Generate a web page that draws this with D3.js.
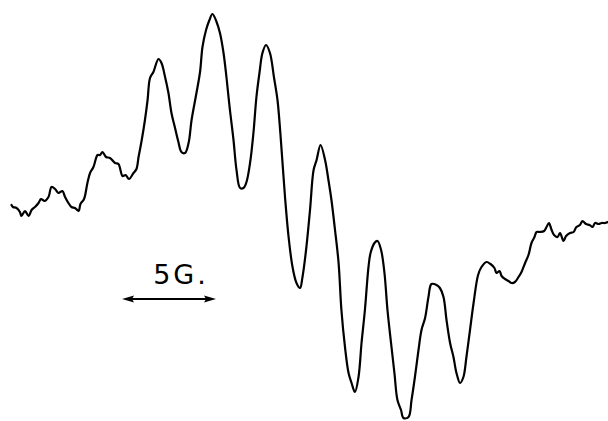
<!DOCTYPE html>
<html>
<head>
<meta charset="utf-8">
<script src="https://cdn.jsdelivr.net/npm/d3@7"></script>
<style>
  html, body { margin: 0; padding: 0; background: #fff; }
  svg { display: block; }
</style>
</head>
<body>
<svg id="chart" width="608" height="421"></svg>
<script>
// EPR first-derivative spectrum: magnetic field offset (G) vs. signal (arb. units)
const field = [
  0.61, 0.69, 0.88, 1.06, 1.14, 1.33, 1.52, 1.68, 1.86, 2.05,
  2.18, 2.37, 2.58, 2.74, 2.93, 3.11, 3.32, 3.46, 3.64, 3.80,
  3.99, 4.18, 4.28, 4.47, 4.65, 4.79, 4.97, 5.19, 5.32, 5.45,
  5.64, 5.85, 6.12, 6.30, 6.52, 6.68, 6.86, 7.10, 7.26, 7.37,
  7.53, 7.71, 7.85, 7.98, 8.16, 8.43, 8.59, 8.78, 8.96, 9.12,
  9.31, 9.49, 9.65, 9.84, 10.03, 10.19, 10.43, 10.64, 10.77, 10.96,
  11.14, 11.30, 11.52, 11.70, 11.89, 12.05, 12.23, 12.42, 12.58, 12.77,
  12.95, 13.11, 13.30, 13.48, 13.64, 13.80, 13.96, 14.15, 14.36, 14.57,
  14.76, 14.92, 15.16, 15.35, 15.56, 15.77, 15.96, 16.09, 16.28, 16.49,
  16.68, 16.84, 17.05, 17.29, 17.47, 17.63, 17.82, 18.01, 18.16, 18.35,
  18.54, 18.70, 18.88, 19.07, 19.23, 19.41, 19.60, 19.71, 19.92, 20.08,
  20.27, 20.45, 20.61, 20.80, 20.98, 21.14, 21.33, 21.46, 21.73, 21.89,
  22.07, 22.26, 22.42, 22.61, 22.79, 22.95, 23.22, 23.40, 23.59, 23.75,
  23.94, 24.12, 24.28, 24.47, 24.65, 24.81, 25.00, 25.19, 25.43, 25.61,
  25.88, 26.09, 26.30, 26.41, 26.57, 26.68, 26.86, 27.05, 27.21, 27.39,
  27.58, 27.74, 27.93, 28.11, 28.27, 28.43, 28.54, 28.72, 28.94, 29.07,
  29.20, 29.34, 29.47, 29.65, 29.79, 29.97, 30.11, 30.32, 30.51, 30.66,
  30.85, 30.98, 31.17, 31.36, 31.52, 31.65, 31.84, 32.00, 32.18, 32.34
];
const signal = [
  5, 3, 2, -2, -6, -1, -6, 0, 3, 7,
  11, 9, 13, 23, 21, 17, 19, 13, 7, 3,
  2, -1, 6, 11, 27, 37, 43, 55, 55, 58,
  53, 52, 47, 46, 34, 35, 31, 37, 41, 53,
  69, 90, 110, 132, 138, 151, 147, 133, 117, 97,
  82, 68, 58, 57, 67, 90, 115, 138, 163, 180,
  190, 196, 188, 177, 157, 132, 100, 70, 40, 22,
  22, 28, 47, 77, 113, 137, 157, 165, 157, 133,
  110, 75, 13, -27, -57, -73, -78, -67, -40, 0,
  40, 50, 65, 50, 30, 10, -20, -53, -100, -137,
  -163, -173, -182, -167, -133, -100, -57, -43, -33, -31,
  -40, -63, -100, -133, -163, -190, -200, -208, -207, -190,
  -167, -140, -120, -108, -87, -74, -75, -78, -87, -110,
  -133, -147, -163, -173, -167, -147, -120, -93, -65, -57,
  -52, -54, -58, -63, -61, -66, -69, -71, -73, -72,
  -67, -62, -53, -45, -33, -27, -22, -22, -21, -17,
  -13, -20, -25, -27, -23, -31, -26, -23, -22, -17,
  -15, -11, -14, -15, -17, -13, -14, -13, -13, -12
];

// Field-scale marker: 5 G span, its start field, and the signal level where it sits
const scaleBarGauss = 5;
const scaleBarStart = 6.49;
const scaleBarLevel = -89;
const scaleBarLabel = "5G.";

const width = 608, height = 421;
const svg = d3.select("#chart");

const x = d3.scaleLinear().domain([0, 32.34]).range([0, width]);
const y = d3.scaleLinear().domain([210, -211]).range([0, height]);

const points = field.map((f, i) => [f, signal[i]]);

const line = d3.line()
  .x(d => x(d[0]))
  .y(d => y(d[1]))
  .curve(d3.curveCatmullRom.alpha(0.5));

svg.append("path")
  .datum(points)
  .attr("d", line)
  .attr("fill", "none")
  .attr("stroke", "#000")
  .attr("stroke-width", 2.2)
  .attr("stroke-linejoin", "round")
  .attr("stroke-linecap", "round");

// Double-headed arrow spanning 5 G
const x0 = x(scaleBarStart);
const x1 = x(scaleBarStart + scaleBarGauss);
const yb = y(scaleBarLevel);
const g = svg.append("g");

g.append("line")
  .attr("x1", x0 + 4).attr("x2", x1 - 4)
  .attr("y1", yb).attr("y2", yb)
  .attr("stroke", "#000")
  .attr("stroke-width", 2);

const headLen = 12, headHalf = 3.5;
g.append("path")
  .attr("d", `M${x0},${yb} L${x0 + headLen},${yb - headHalf} L${x0 + headLen - 2},${yb} L${x0 + headLen},${yb + headHalf} Z`)
  .attr("fill", "#000");
g.append("path")
  .attr("d", `M${x1},${yb} L${x1 - headLen},${yb - headHalf} L${x1 - headLen + 2},${yb} L${x1 - headLen},${yb + headHalf} Z`)
  .attr("fill", "#000");

g.append("text")
  .attr("x", (x0 + x1) / 2 + 12)
  .attr("y", yb - 15)
  .attr("text-anchor", "middle")
  .attr("font-family", "'DejaVu Sans', sans-serif")
  .attr("font-size", 27)
  .attr("letter-spacing", 3)
  .attr("fill", "#000")
  .text(scaleBarLabel);
</script>
</body>
</html>
